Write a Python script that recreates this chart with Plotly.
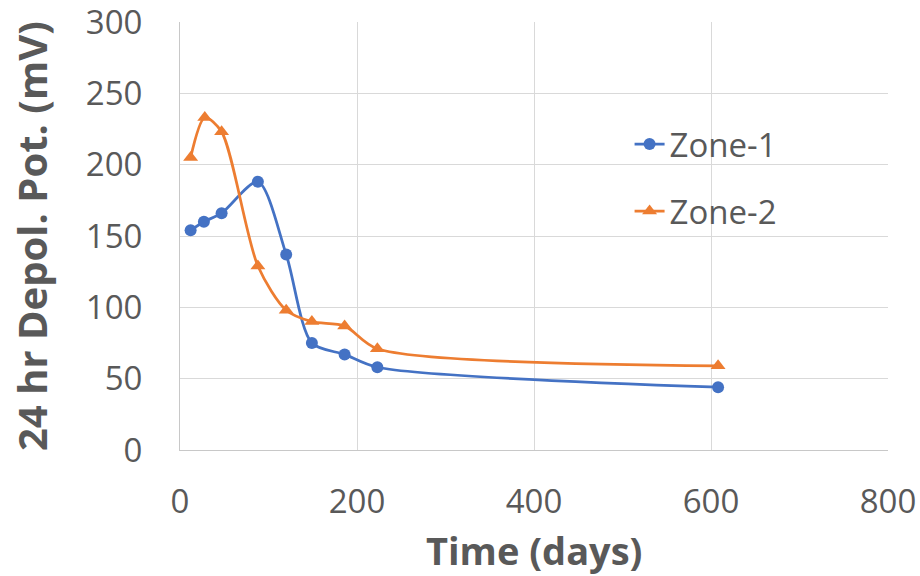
import plotly.graph_objects as go

days1 = [12, 27, 47, 88, 120, 149, 186, 223, 608]
zone1 = [154, 160, 166, 188, 137, 75, 67, 58, 44]
days2 = [12, 28, 47, 88, 120, 149, 186, 223, 608]
zone2 = [205, 233, 223, 129, 98, 90, 87, 71, 59]

x_ticks = [0, 200, 400, 600, 800]
y_ticks = [0, 50, 100, 150, 200, 250, 300]

font_family = "Open Sans, Liberation Sans, sans-serif"
gray = "#595959"

fig = go.Figure()
fig.add_trace(go.Scatter(
    x=days1, y=zone1, name="Zone-1", mode="lines+markers",
    line=dict(color="#4472C4", width=2.75, shape="spline", smoothing=0.8),
    marker=dict(symbol="circle", size=12, color="#4472C4"),
    legendgroup="g1",
))
fig.add_trace(go.Scatter(
    x=days2, y=zone2, name="Zone-2", mode="lines+markers",
    line=dict(color="#ED7D31", width=2.75, shape="spline", smoothing=0.8),
    marker=dict(symbol="triangle-up", size=13, color="#ED7D31"),
    legendgroup="g2",
))

fig.update_layout(
    width=920, height=576,
    margin=dict(l=180, r=32, t=22, b=126),
    paper_bgcolor="white", plot_bgcolor="white",
    font=dict(family=font_family, color=gray),
    legend=dict(x=0.635, y=0.78, xanchor="left", yanchor="top",
                font=dict(size=33, color=gray), tracegroupgap=21,
                bgcolor="rgba(0,0,0,0)"),
    xaxis=dict(range=[0, 800], tickvals=x_ticks, showgrid=True,
               gridcolor="#d9d9d9", gridwidth=1, zeroline=False,
               showline=True, linecolor="#c8c8c8", automargin=False,
               tickfont=dict(size=33, color=gray), ticklabeloverflow="allow",
               ticks="outside", ticklen=22, tickcolor="rgba(0,0,0,0)"),
    yaxis=dict(range=[0, 300], tickvals=y_ticks, showgrid=True,
               gridcolor="#d9d9d9", gridwidth=1, zeroline=False,
               showline=True, linecolor="#c8c8c8", automargin=False,
               tickfont=dict(size=33, color=gray), ticklabeloverflow="allow",
               ticks="outside", ticklen=30, tickcolor="rgba(0,0,0,0)"),
    annotations=[
        dict(text="<b>Time (days)</b>", xref="paper", yref="paper",
             x=0.5, y=0, xanchor="center", yanchor="middle", yshift=-100,
             showarrow=False, font=dict(size=38, color=gray)),
        dict(text="<b>24 hr Depol. Pot. (mV)</b>", xref="paper", yref="paper",
             x=0, y=0.5, xanchor="center", yanchor="middle", xshift=-149,
             textangle=-90, showarrow=False, font=dict(size=40, color=gray)),
    ],
)

fig.write_html("out.html")
